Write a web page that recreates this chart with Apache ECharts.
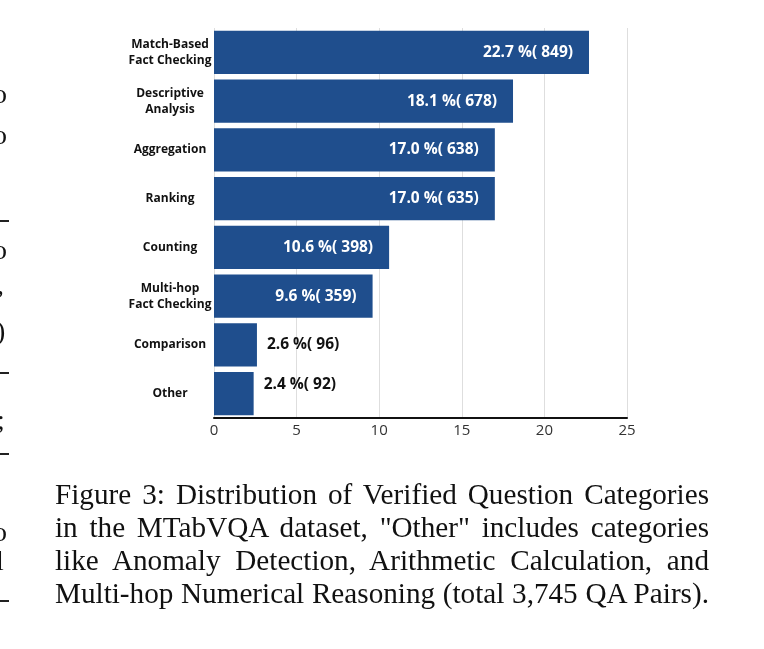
<!DOCTYPE html>
<html>
<head>
<meta charset="utf-8">
<script src="https://cdn.jsdelivr.net/npm/echarts@6/dist/echarts.min.js"></script>
<style>
  html, body { margin: 0; padding: 0; background: #fff; }
  #wrap { position: relative; width: 764px; height: 649px; overflow: hidden; }
  #chart { position: absolute; left: 0; top: 0; width: 764px; height: 649px; }
  #caption { position: absolute; left: 55px; top: 478px; width: 654px;
    font-family: "Liberation Serif", "DejaVu Serif", serif; font-size: 29.2px; line-height: 33px; color: #111; }
  #caption div { text-align: justify; text-align-last: justify; white-space: nowrap; }
  .frag { position: absolute; font-family: "Liberation Serif", serif; font-size: 28px; color: #111; line-height: 28px; }
  .rule { position: absolute; left: 0; width: 9px; height: 1.5px; background: #222; }
</style>
</head>
<body>
<div id="wrap">
  <div id="chart"></div>
  <div id="caption">
    <div>Figure 3: Distribution of Verified Question Categories</div>
    <div>in the MTabVQA dataset, "Other" includes categories</div>
    <div>like Anomaly Detection, Arithmetic Calculation, and</div>
    <div>Multi-hop Numerical Reasoning (total 3,745 QA Pairs).</div>
  </div>
  <span class="frag" style="left:-7px;top:80px">o</span>
  <span class="frag" style="left:-7px;top:121px">o</span>
  <div class="rule" style="top:220px"></div>
  <span class="frag" style="left:-7px;top:236px">o</span>
  <span class="frag" style="left:-3px;top:271px">,</span>
  <span class="frag" style="left:-4px;top:317px">)</span>
  <div class="rule" style="top:372px"></div>
  <span class="frag" style="left:-3px;top:406px">;</span>
  <div class="rule" style="top:453px"></div>
  <span class="frag" style="left:-7px;top:518px">o</span>
  <span class="frag" style="left:-4px;top:547px">l</span>
  <div class="rule" style="top:600px"></div>
</div>
<script>
const categories = [
  'Match-Based\nFact Checking',
  'Descriptive\nAnalysis',
  'Aggregation',
  'Ranking',
  'Counting',
  'Multi-hop\nFact Checking',
  'Comparison',
  'Other'
];
const percents = [22.7, 18.1, 17.0, 17.0, 10.6, 9.6, 2.6, 2.4];
const counts = [849, 678, 638, 635, 398, 359, 96, 92];
const xTicks = [0, 5, 10, 15, 20, 25];

const barColor = '#1f4e8d';
const data = percents.map((p, i) => {
  const small = p < 5;
  const item = { value: p };
  if (small) {
    item.label = {
      position: 'right',
      distance: 10,
      color: '#111',
      offset: i === categories.length - 1 ? [0, -9] : [0, 0]
    };
  }
  return item;
});

const chart = echarts.init(document.getElementById('chart'));
chart.setOption({
  animation: false,
  grid: { left: 214, right: 137, top: 28, bottom: 231, containLabel: false },
  xAxis: {
    type: 'value',
    min: xTicks[0],
    max: xTicks[xTicks.length - 1],
    interval: 5,
    axisLine: { show: true, lineStyle: { color: '#111', width: 2 } },
    axisTick: { show: false },
    splitLine: { show: true, lineStyle: { color: '#dedede', width: 1 } },
    axisLabel: { color: '#333', fontSize: 15, fontFamily: 'Open Sans', margin: 5 }
  },
  yAxis: {
    type: 'category',
    inverse: true,
    data: categories,
    axisLine: { show: false },
    axisTick: { show: false },
    splitLine: { show: false },
    axisLabel: {
      color: '#111', fontSize: 12, fontWeight: 'bold', fontFamily: 'Open Sans',
      align: 'center', margin: 44, lineHeight: 16
    }
  },
  series: [{
    type: 'bar',
    data: data,
    barCategoryGap: '11%',
    itemStyle: { color: barColor },
    label: {
      show: true,
      position: 'insideRight',
      distance: 16,
      color: '#fff',
      fontSize: 15.5,
      fontWeight: 'bold',
      fontFamily: 'Open Sans',
      formatter: (p) => percents[p.dataIndex].toFixed(1) + ' %( ' + counts[p.dataIndex] + ')'
    }
  }]
});
</script>
</body>
</html>
